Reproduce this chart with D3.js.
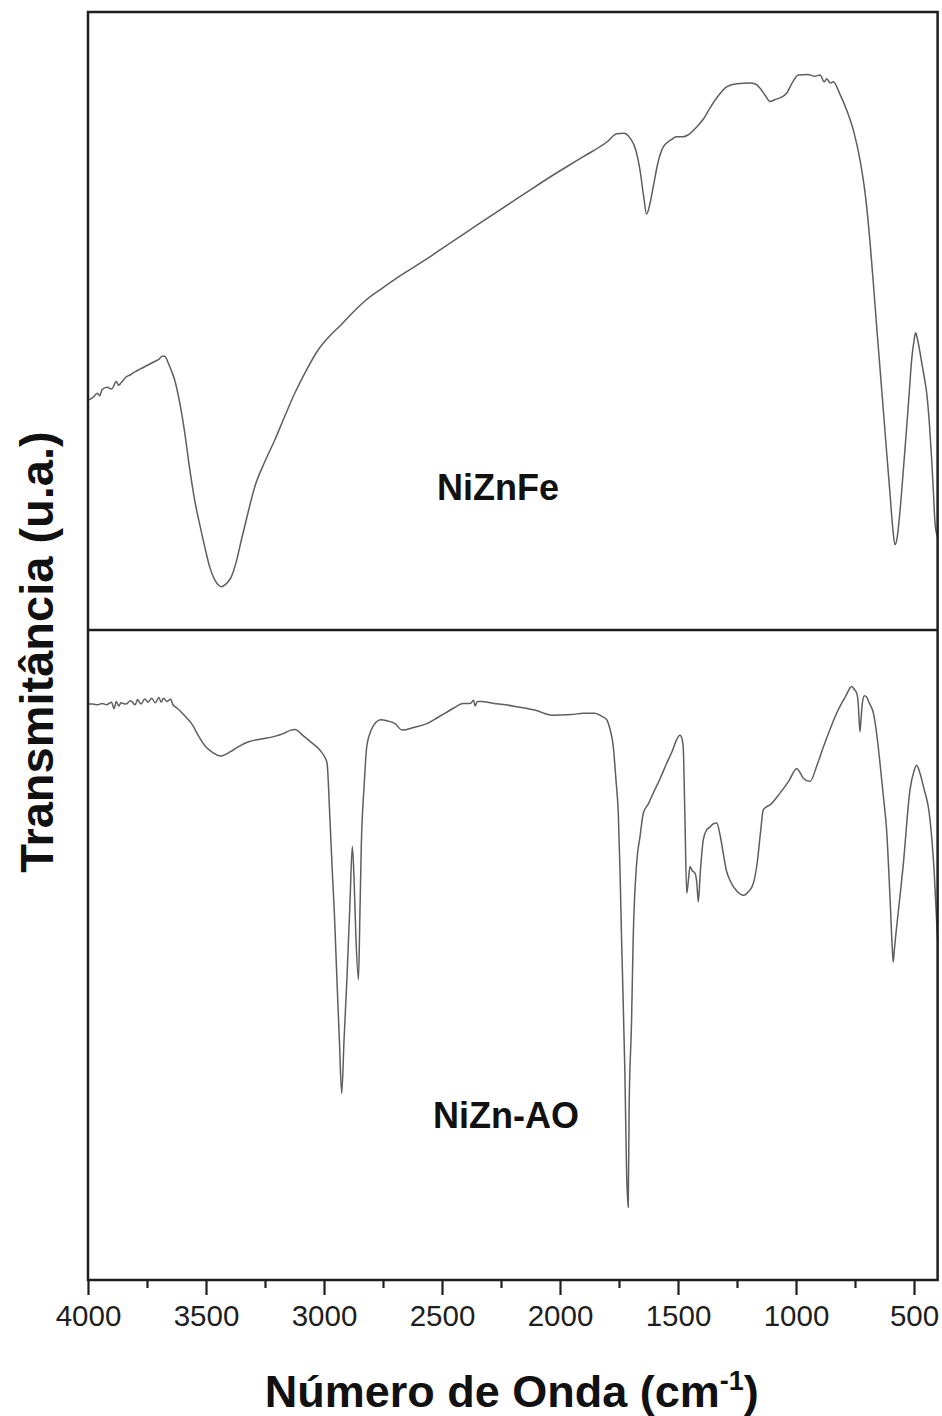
<!DOCTYPE html>
<html>
<head>
<meta charset="utf-8">
<script src="https://cdn.jsdelivr.net/npm/d3@7/dist/d3.min.js"></script>
<style>
  html, body { margin: 0; padding: 0; background: #fff; }
  svg { display: block; }
  text { font-family: Arial, "Liberation Sans", sans-serif; }
</style>
</head>
<body>
<div id="chart"></div>
<script>
// FTIR spectra: [wavenumber (cm-1), transmittance (a.u.)]
const nizNFe = [
  [4000,37.2],[3980,37.6],[3960,38.3],[3950,37.9],[3940,38.9],[3920,39.3],[3900,39.0],
  [3880,40.2],[3870,39.6],[3860,40.0],[3840,40.9],[3820,41.3],[3800,41.8],[3780,42.2],
  [3760,42.6],[3740,43.0],[3720,43.4],[3700,43.8],[3685,44.3],[3675,44.3],[3660,43.2],
  [3645,41.8],[3633,40.5],[3610,36.5],[3590,31.9],[3570,26.3],[3548,21.0],[3525,16.8],
  [3505,13.4],[3485,10.3],[3463,8.1],[3445,7.2],[3435,7.0],[3420,7.3],[3405,7.9],
  [3393,8.6],[3370,11.3],[3350,14.6],[3320,19.3],[3294,23.1],[3250,27.3],[3209,30.7],
  [3165,34.7],[3124,38.3],[3075,42.0],[3025,45.3],[2975,47.6],[2927,49.4],[2880,51.3],
  [2828,53.2],[2750,55.4],[2678,57.3],[2566,60.0],[2466,62.6],[2360,65.3],[2254,68.0],
  [2150,70.6],[2042,73.3],[1970,75.0],[1901,76.6],[1800,79.0],[1760,80.3],[1730,80.4],
  [1703,79.6],[1680,77.8],[1661,74.4],[1645,70.0],[1633,67.3],[1620,68.8],[1605,71.7],
  [1585,75.6],[1562,78.2],[1530,79.3],[1506,79.8],[1480,79.8],[1458,80.1],[1421,81.4],
  [1390,82.8],[1364,84.5],[1330,86.4],[1294,87.9],[1250,88.4],[1195,88.5],[1170,88.3],
  [1153,87.7],[1130,86.5],[1110,85.5],[1090,85.8],[1068,86.1],[1039,86.9],[1015,88.6],
  [990,89.8],[950,89.9],[920,89.6],[898,89.8],[880,88.7],[870,89.2],[855,88.5],
  [842,88.7],[815,86.8],[785,84.1],[755,80.6],[729,76.1],[705,70.0],[686,62.6],
  [672,56.0],[658,49.0],[644,42.3],[630,35.6],[616,28.8],[602,22.2],[590,16.5],
  [581,13.8],[572,14.8],[559,19.4],[545,26.0],[531,32.8],[520,38.5],[510,43.7],
  [500,46.8],[493,48.1],[485,47.0],[475,45.0],[467,43.2],[456,40.8],[446,38.3],
  [435,33.5],[425,27.5],[418,22.5],[411,17.3],[400,15.0]
];

const nizNAO = [
  [4000,88.6],[3980,88.6],[3960,88.5],[3940,88.7],[3920,88.5],[3900,88.9],[3890,87.9],
  [3880,89.0],[3870,88.3],[3860,88.8],[3840,88.6],[3820,89.1],[3800,88.5],[3790,89.3],
  [3775,88.6],[3760,89.4],[3745,88.9],[3730,89.5],[3715,88.8],[3700,89.6],[3690,88.9],
  [3680,89.5],[3665,89.0],[3650,89.4],[3640,88.5],[3623,88.0],[3600,87.2],[3580,86.4],
  [3561,85.6],[3530,83.6],[3500,82.0],[3470,81.1],[3441,80.6],[3400,81.2],[3360,82.1],
  [3319,82.8],[3270,83.2],[3213,83.6],[3170,84.1],[3140,84.6],[3123,84.7],[3090,83.8],
  [3050,82.6],[3017,81.5],[2995,80.3],[2987,79.5],[2975,71.0],[2965,63.0],[2956,56.4],
  [2945,46.0],[2935,37.0],[2925,28.7],[2915,37.0],[2903,46.2],[2890,58.0],[2880,66.7],
  [2873,62.0],[2865,53.0],[2854,46.2],[2848,56.0],[2842,66.7],[2830,76.0],[2819,82.0],
  [2800,84.6],[2780,85.8],[2759,86.2],[2730,86.0],[2699,85.6],[2669,84.6],[2620,85.0],
  [2564,85.6],[2520,86.5],[2487,87.2],[2450,88.0],[2411,88.7],[2380,88.7],[2366,89.2],
  [2360,88.3],[2350,89.0],[2335,89.0],[2280,88.7],[2230,88.5],[2184,88.2],[2100,87.6],
  [2034,86.9],[1950,87.0],[1900,87.2],[1852,87.2],[1822,86.7],[1802,86.2],[1790,85.0],
  [1774,82.0],[1763,77.0],[1753,71.8],[1745,62.0],[1739,52.3],[1725,31.8],[1718,16.9],
  [1711,11.2],[1707,26.7],[1697,39.5],[1690,52.3],[1675,64.2],[1661,68.2],[1647,71.8],
  [1625,73.3],[1605,74.9],[1575,77.2],[1548,79.5],[1525,81.3],[1506,83.1],[1492,83.8],
  [1485,83.5],[1478,82.0],[1471,71.8],[1463,59.5],[1456,61.5],[1449,63.6],[1440,63.0],
  [1428,62.6],[1420,61.0],[1414,58.2],[1405,63.0],[1393,67.7],[1378,69.3],[1364,69.7],
  [1350,70.2],[1336,70.3],[1322,68.5],[1308,65.6],[1295,63.0],[1280,61.5],[1250,59.8],
  [1223,59.2],[1200,59.8],[1181,61.0],[1165,64.0],[1150,69.0],[1139,72.3],[1125,72.8],
  [1110,73.1],[1068,74.9],[1030,76.8],[997,78.7],[985,78.2],[969,77.2],[941,76.7],
  [910,79.3],[884,82.0],[855,84.8],[828,87.2],[790,89.8],[764,91.3],[752,90.8],
  [743,90.3],[737,89.0],[733,86.5],[729,84.4],[725,86.0],[719,88.7],[710,89.9],
  [701,89.7],[690,88.8],[672,87.2],[658,84.0],[644,79.5],[630,74.5],[616,69.2],
  [600,57.5],[592,51.0],[588,48.9],[584,50.5],[545,64.1],[517,75.4],[500,78.3],
  [489,79.2],[475,78.0],[460,75.9],[432,70.8],[415,63.1],[400,52.3]
];

const majorTicks = [4000, 3500, 3000, 2500, 2000, 1500, 1000, 500];
const minorTicks = [3750, 3250, 2750, 2250, 1750, 1250, 750];

const panels = [
  { name: "NiZnFe",  data: nizNFe },
  { name: "NiZn-AO", data: nizNAO }
];

const W = 942, H = 1416;
const plotLeft = 88, plotRight = 937.6, plotTop = 12, plotMid = 630, plotBottom = 1280;

const svg = d3.select("#chart").append("svg")
  .attr("width", W).attr("height", H);

const x = d3.scaleLinear().domain([4000, 400]).range([plotLeft, plotRight]);

const yTop = d3.scaleLinear().domain([0, 100]).range([plotMid, plotTop]);
const yBot = d3.scaleLinear().domain([0, 100]).range([plotBottom, plotMid]);
const yScales = [yTop, yBot];

// spectra
panels.forEach((p, i) => {
  const y = yScales[i];
  const line = d3.line()
    .x(d => x(d[0]))
    .y(d => y(d[1]))
    .curve(d3.curveMonotoneX);
  svg.append("path")
    .datum(p.data)
    .attr("fill", "none")
    .attr("stroke", "#5e5e5e")
    .attr("stroke-width", 1.5)
    .attr("stroke-linejoin", "round")
    .attr("d", line);
});

// frames
const frame = svg.append("g")
  .attr("fill", "none")
  .attr("stroke", "#1e1e1e")
  .attr("stroke-width", 2.5);
frame.append("rect").attr("x", plotLeft).attr("y", plotTop)
  .attr("width", plotRight - plotLeft).attr("height", plotBottom - plotTop);
frame.append("line").attr("x1", plotLeft).attr("x2", plotRight)
  .attr("y1", plotMid).attr("y2", plotMid);

// bottom axis
const axisMajor = d3.axisBottom(x)
  .tickValues(majorTicks)
  .tickSize(15)
  .tickPadding(10)
  .tickFormat(d3.format("d"));
const gMajor = svg.append("g")
  .attr("transform", `translate(0,${plotBottom})`)
  .call(axisMajor);
gMajor.select(".domain").remove();
gMajor.selectAll(".tick line").attr("stroke", "#1e1e1e").attr("stroke-width", 2.2);
gMajor.selectAll(".tick text")
  .attr("fill", "#1e1e1e")
  .style("font-size", "29.5px")
  .style("font-family", "Arial, 'Liberation Sans', sans-serif");

const axisMinor = d3.axisBottom(x)
  .tickValues(minorTicks)
  .tickSize(8)
  .tickFormat("");
const gMinor = svg.append("g")
  .attr("transform", `translate(0,${plotBottom})`)
  .call(axisMinor);
gMinor.select(".domain").remove();
gMinor.selectAll(".tick line").attr("stroke", "#1e1e1e").attr("stroke-width", 2.2);

// panel labels
svg.append("text")
  .attr("x", 437).attr("y", 500)
  .style("font-size", "36px").style("font-weight", "bold")
  .attr("fill", "#111")
  .text(panels[0].name);
svg.append("text")
  .attr("x", 433).attr("y", 1128)
  .style("font-size", "36px").style("font-weight", "bold")
  .attr("fill", "#111")
  .text(panels[1].name);

// axis titles
const xt = svg.append("text")
  .attr("x", (plotLeft + plotRight) / 2 - 1)
  .attr("y", 1407)
  .attr("text-anchor", "middle")
  .style("font-size", "45px").style("font-weight", "bold")
  .attr("fill", "#111");
xt.append("tspan").text("Número de Onda (cm");
xt.append("tspan").attr("dy", -17).style("font-size", "27px").text("-1");
xt.append("tspan").attr("dy", 17).text(")");

svg.append("text")
  .attr("transform", "translate(53,652) rotate(-90)")
  .attr("text-anchor", "middle")
  .style("font-size", "47px").style("font-weight", "bold")
  .attr("fill", "#111")
  .text("Transmitância (u.a.)");
</script>
</body>
</html>
